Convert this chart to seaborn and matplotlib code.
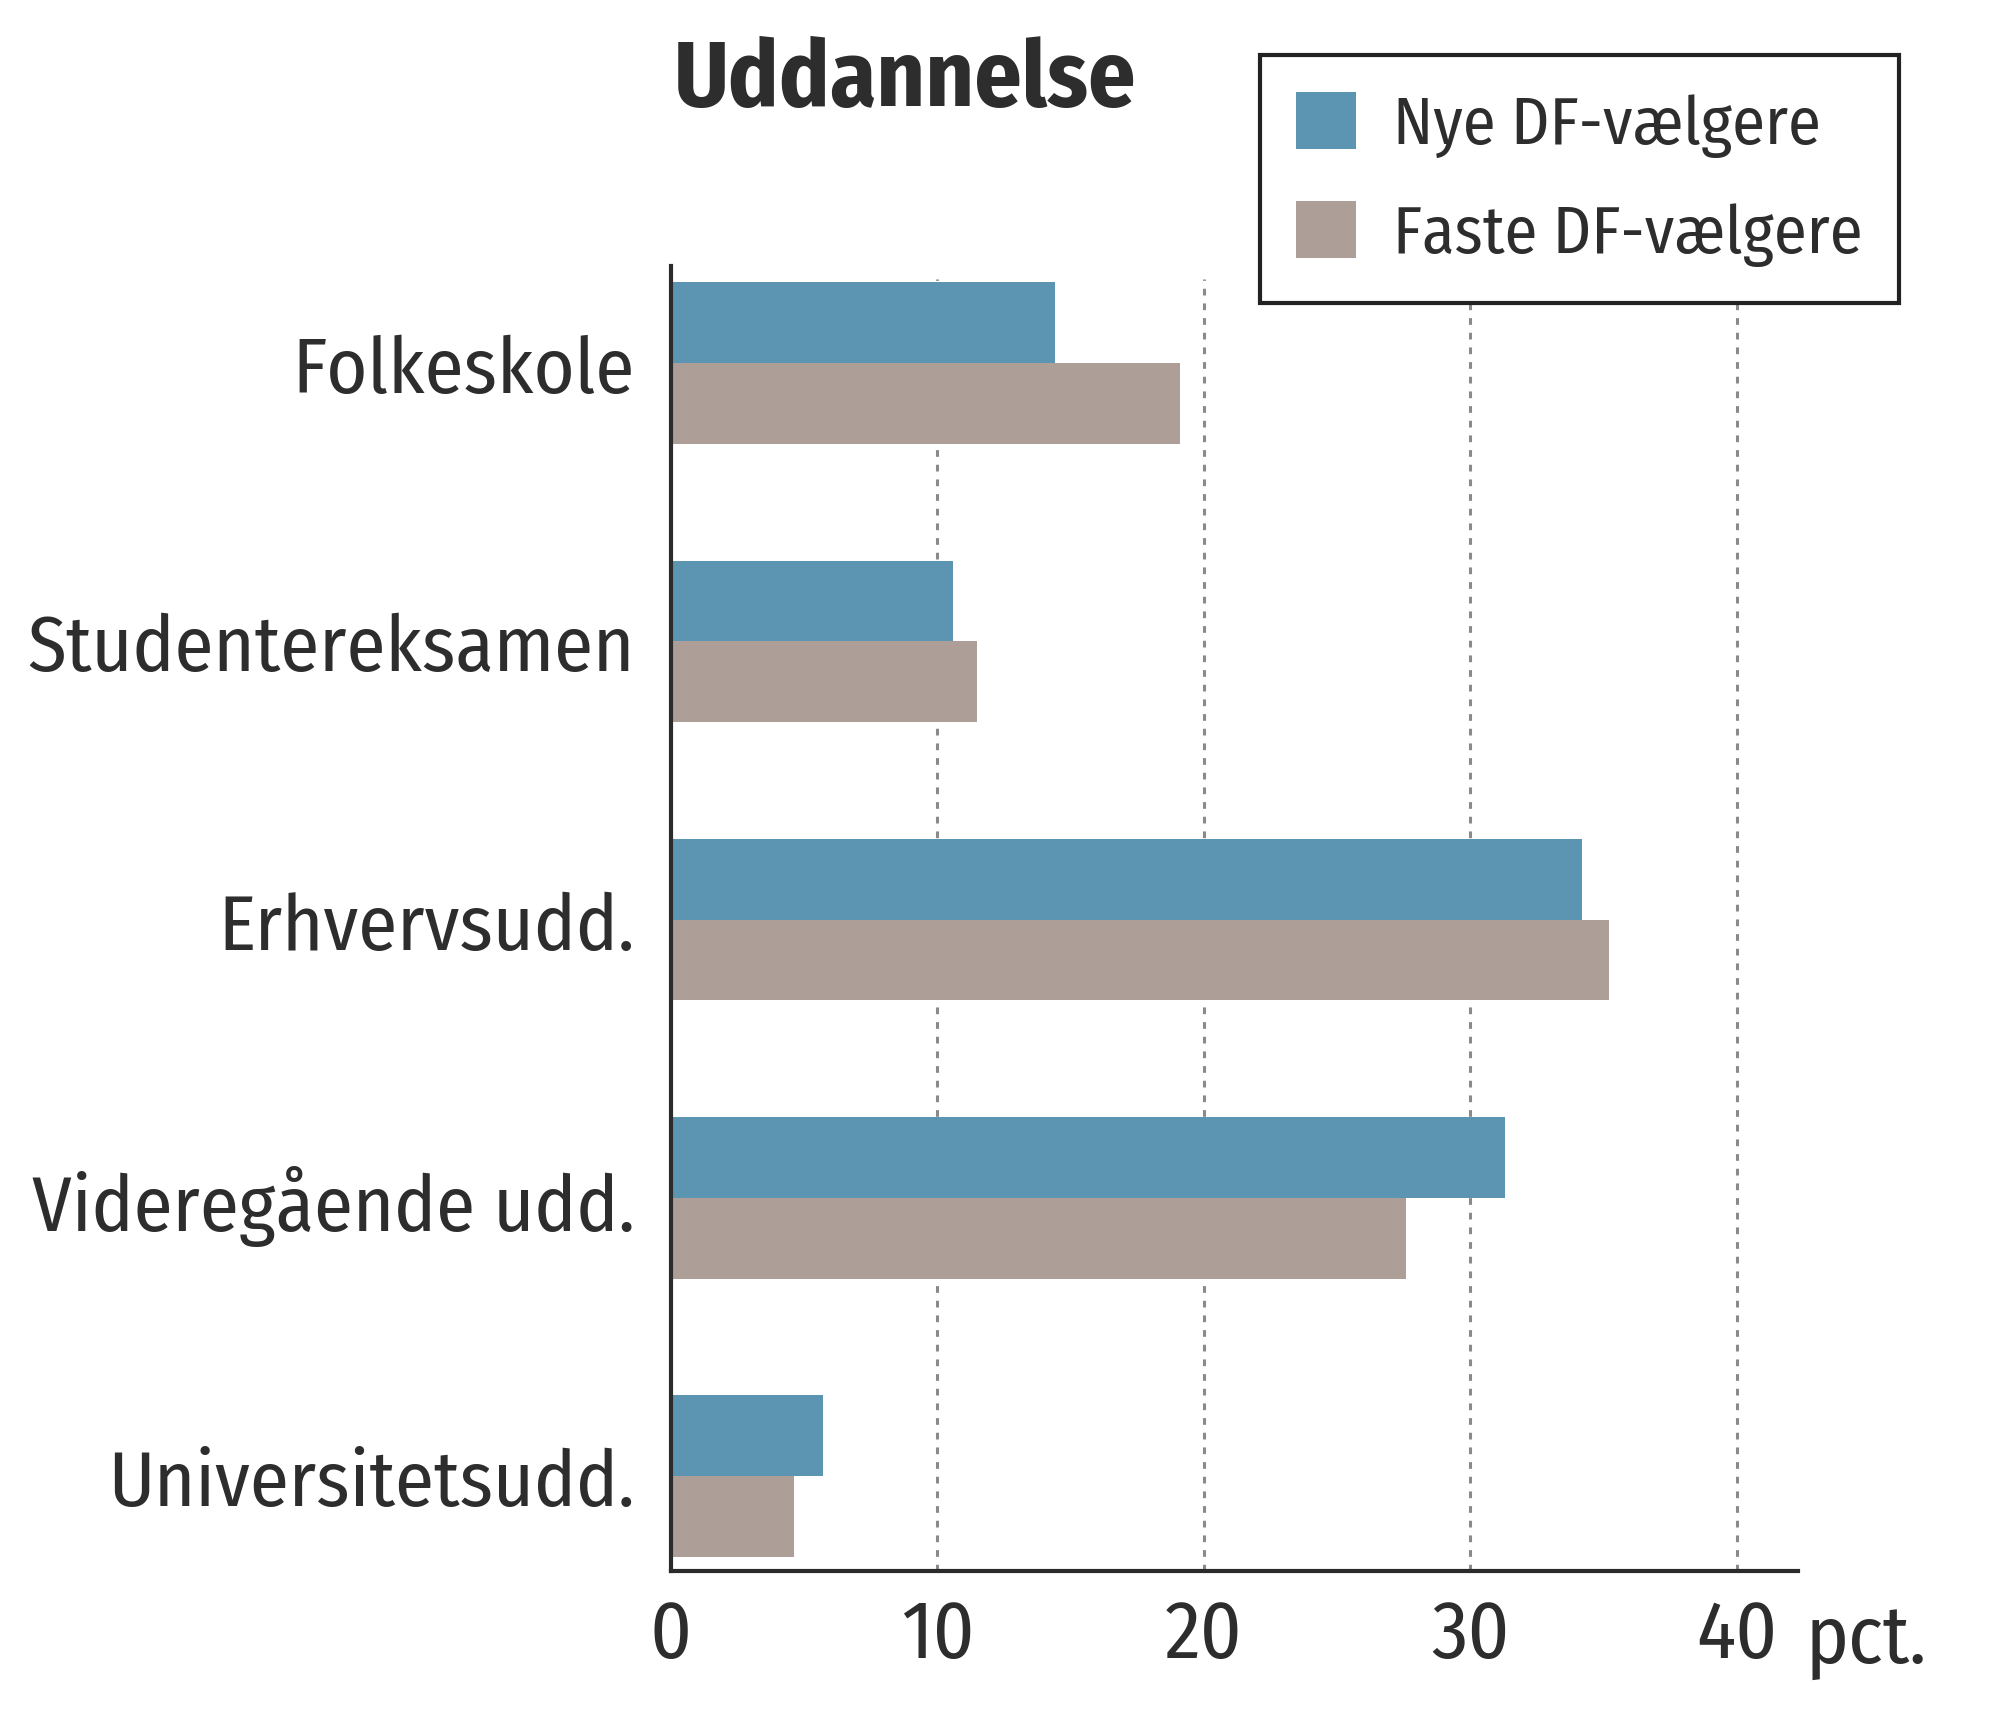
import pandas as pd
import matplotlib.pyplot as plt
import seaborn as sns
from matplotlib.font_manager import FontProperties
from matplotlib.textpath import TextPath

# Data (pct.)
kategorier = ['Folkeskole', 'Studentereksamen', 'Erhvervsudd.',
              'Videregående udd.', 'Universitetsudd.']
nye_df = [14.4, 10.6, 34.2, 31.3, 5.7]
faste_df = [19.1, 11.5, 35.2, 27.6, 4.6]
grupper = ['Nye DF-vælgere', 'Faste DF-vælgere']
x_ticks = [0, 10, 20, 30, 40]

farver = ['#5b95b1', '#ad9e97']
FONT = 'Fira Sans Condensed'
DPI = 200

df = pd.DataFrame({
    'kategori': kategorier * 2,
    'pct': nye_df + faste_df,
    'gruppe': [grupper[0]] * len(kategorier) + [grupper[1]] * len(kategorier),
})


def fit_size(s, target_px, weight='normal'):
    # font size (pt) that gives the string an ink width of target_px
    prop = FontProperties(family=FONT, weight=weight)
    w = TextPath((0, 0), s, size=100, prop=prop).get_extents().width
    return target_px * 72 / DPI / (w / 100)


sns.set_style('white')
plt.rcParams['font.family'] = [FONT, 'DejaVu Sans']
plt.rcParams['text.color'] = '#2d2d2d'

ylab_size = fit_size('Studentereksamen', 599)
xlab_size = fit_size('pct.', 111)
titel_size = fit_size('Uddannelse', 456, weight='bold')
leg_size = fit_size('Faste DF-vælgere', 461)

fig = plt.figure(figsize=(10, 8.655), dpi=DPI)
ax = fig.add_axes([0.3355, 0.092, 0.5635, 0.754])

sns.barplot(data=df, y='kategori', x='pct', hue='gruppe', orient='h',
            palette=farver, width=0.58, saturation=1, linewidth=0, ax=ax,
            order=kategorier, hue_order=grupper)

ax.set_xlim(0, 42.3)
ax.set_ylim(4.34, -0.35)
ax.set_xticks(x_ticks)
ax.set_xlabel('')
ax.set_ylabel('')

# dotted vertical gridlines
for v in x_ticks[1:]:
    ax.axvline(v, ymin=0, ymax=0.99, color='#8a8a8a', lw=1.1,
               ls=(0, (2.2, 2.6)), zorder=0)

for side in ['top', 'right']:
    ax.spines[side].set_visible(False)
for side in ['left', 'bottom']:
    ax.spines[side].set_color('#2b2b2b')
    ax.spines[side].set_linewidth(1.5)

ax.tick_params(axis='y', length=0, pad=13, labelsize=ylab_size, labelcolor='#2d2d2d')
ax.tick_params(axis='x', length=0, pad=9, labelsize=xlab_size, labelcolor='#2d2d2d')

fig.text(0.9025, 0.0393, 'pct.', fontsize=xlab_size, va='baseline', ha='left')
fig.text(0.337, 0.939, 'Uddannelse', fontsize=titel_size, fontweight='bold',
         va='baseline', ha='left')

handles, labels = ax.get_legend_handles_labels()
ax.get_legend().remove()
leg = ax.legend(handles, labels, loc='upper left',
                bbox_to_anchor=(0.630, 0.9676), bbox_transform=fig.transFigure,
                fontsize=leg_size, frameon=True, fancybox=False, shadow=False,
                handlelength=0.9, handleheight=0.95, handletextpad=0.55,
                labelspacing=0.66, borderpad=0.55, borderaxespad=0)
leg.get_frame().set_edgecolor('#222222')
leg.get_frame().set_linewidth(1.5)
leg.get_frame().set_alpha(1)

fig.savefig('out.png', dpi=DPI, facecolor='white')
